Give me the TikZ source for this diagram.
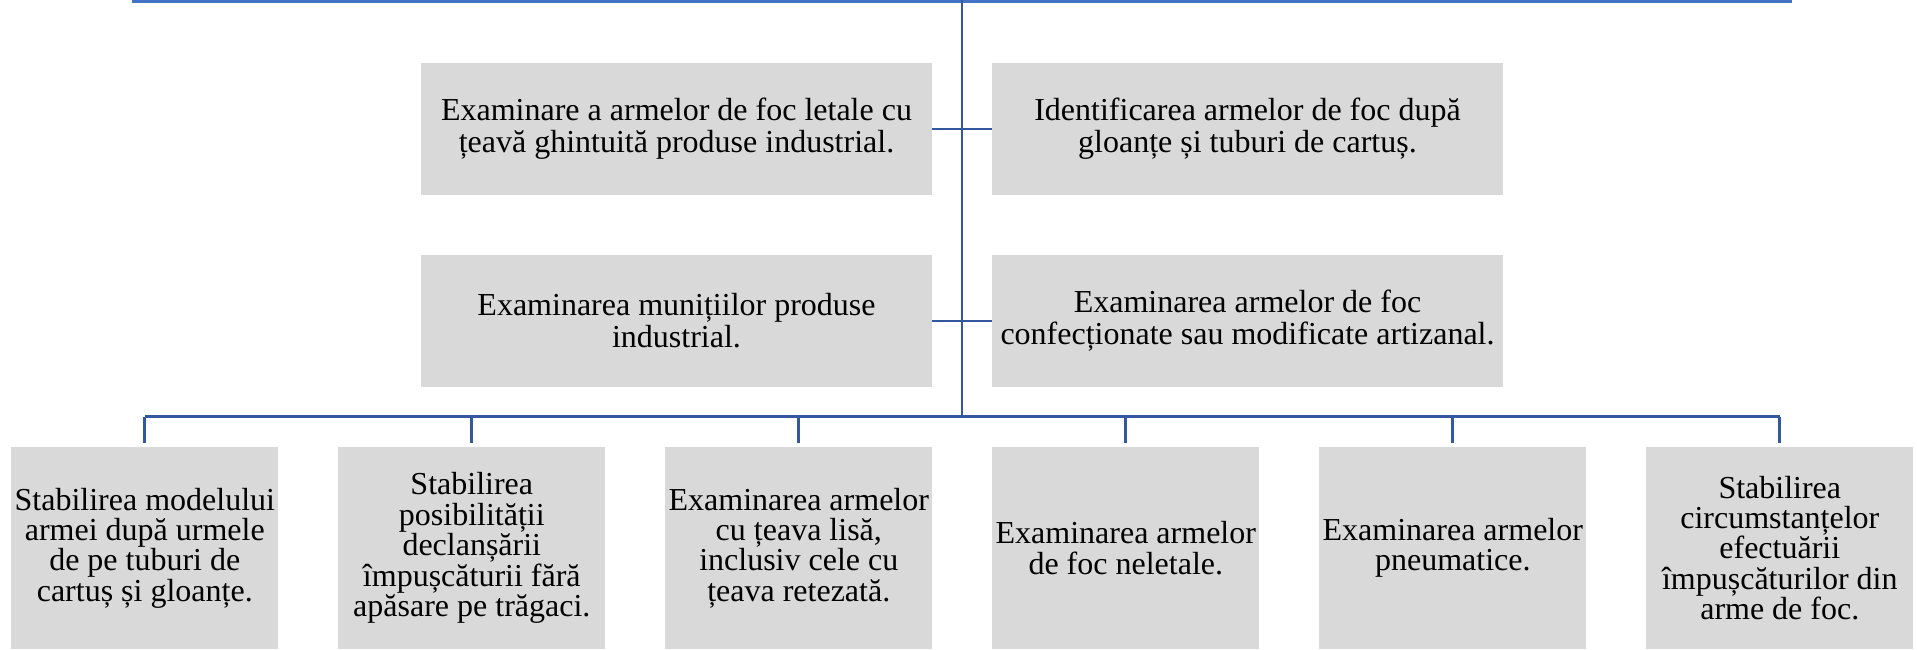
\documentclass[tikz,border=0pt]{standalone}
\usepackage{fontspec}
\setmainfont{Liberation Serif}
\usetikzlibrary{positioning}
\definecolor{barblue}{RGB}{68,114,196}
\definecolor{linkblue}{RGB}{52,88,160}
\definecolor{boxgray}{RGB}{217,217,217}
\newcommand\tightlines{\lineskiplimit=-20pt\relax}
\tikzset{
  topic/.style={fill=boxgray, align=center, inner xsep=1pt},
  wide/.style={topic, minimum width=255.5pt, minimum height=66pt,
    font=\fontsize{16}{16}\selectfont\tightlines},
  tall/.style={topic, minimum width=133.5pt, minimum height=101pt,
    font=\fontsize{16}{15.2}\selectfont\tightlines},
  link/.style={draw=linkblue, line width=1.35pt}
}
\begin{document}
\begin{tikzpicture}[x=0.5pt,y=-0.5pt]
    \useasboundingbox (0,0) rectangle (1917,649);
    % upper pairs
    \node[wide] (topL) at (676.5,129) {Examinare a armelor de foc letale cu\\țeavă ghintuită produse industrial.};
    \node[wide] (topR) at (1247.5,129) {Identificarea armelor de foc după\\gloanțe și tuburi de cartuș.};
    \node[wide] (midL) at (676.5,321) {Examinarea munițiilor produse\\industrial.};
    \node[wide] (midR) at (1247.5,321) {Examinarea armelor de foc\\confecționate sau modificate artizanal.};
    % bottom row
    \foreach \i/\txt in {
        1/{Stabilirea modelului\\armei după urmele\\de pe tuburi de\\cartuș și gloanțe.},
        2/{Stabilirea\\posibilității\\declanșării\\împușcăturii fără\\apăsare pe trăgaci.},
        3/{Examinarea armelor\\cu țeava lisă,\\inclusiv cele cu\\țeava retezată.},
        4/{Examinarea armelor\\de foc neletale.},
        5/{Examinarea armelor\\pneumatice.},
        6/{Stabilirea\\circumstanțelor\\efectuării\\împușcăturilor din\\arme de foc.}} {
        \node[tall] (b\i) at (144.8+327*\i-327,548) {\txt};
    }
    \coordinate (barL) at (131.7,1.7);
    \coordinate (barR) at (1791.5,1.7);
    \coordinate (trunk) at (962,0);
    \coordinate (bus) at (962,416.7);
    \draw[barblue, line width=1.7pt] (barL) -- (barR);
    \draw[link] (trunk) -- (bus);
    \draw[link] (topL.east) -- (topR.west);
    \draw[link] (midL.east) -- (midR.west);
    \draw[link] (b1.north |- bus) -- (b6.north |- bus);
    \foreach \i in {1,...,6}
        \draw[link] (b\i.north |- bus) -- ([yshift=1.7pt]b\i.north);
\end{tikzpicture}
\end{document}
